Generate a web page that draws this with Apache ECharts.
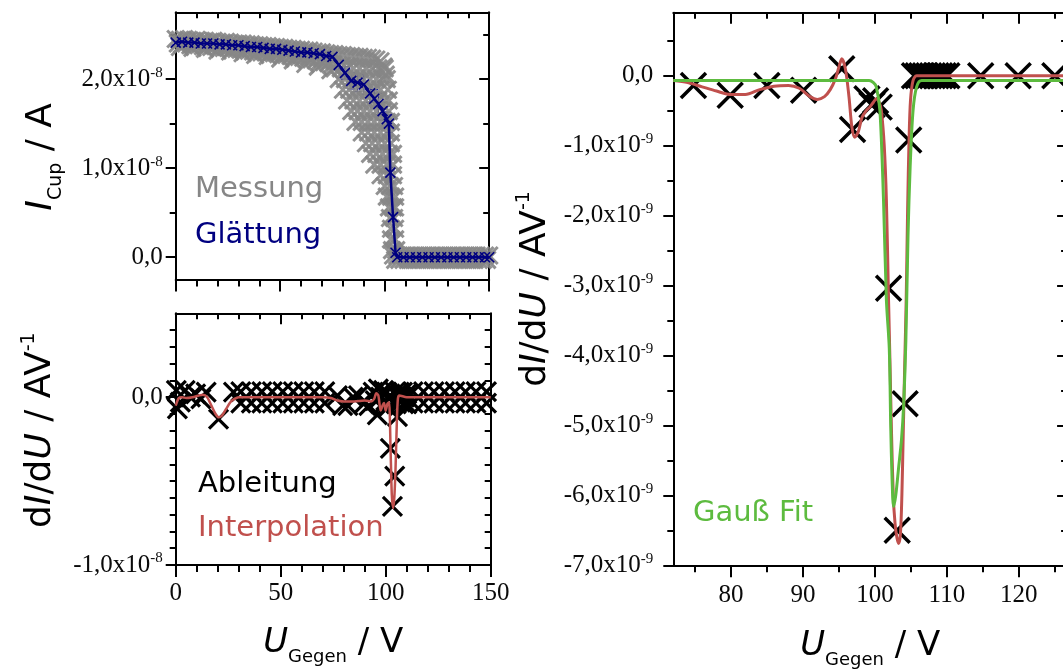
<!DOCTYPE html>
<html>
<head>
<meta charset="utf-8">
<title>Gegenfeld-Kurve</title>
<script src="https://cdn.jsdelivr.net/npm/echarts@6/dist/echarts.min.js"></script>
<style>
  html, body { margin: 0; padding: 0; background: #fff; }
  #chart { width: 1063px; height: 672px; }
</style>
</head>
<body>
<div id="chart"></div>
<script>
// ---- top left: Messung (grey) and Glättung (navy), current in 1e-8 A ----
const measU = [
  0, 2, 4, 6, 8, 10, 12, 14, 16, 18, 20, 22, 24, 26, 28, 30, 32, 34, 36, 38, 40, 42, 44, 46, 48, 50, 52, 54, 56, 58, 60, 62, 64, 66, 68, 70, 72, 74,
  76, 78, 80, 82, 84, 86, 88, 90, 92, 94, 96, 98, 99.5, 100.5,
  1, 3, 5, 7, 9, 11, 13, 15, 17, 19, 21, 23, 25, 27, 29, 31, 33, 35, 37, 39, 41, 43, 45, 47, 49, 51, 53, 55, 57, 59, 61, 63, 65, 67, 69, 71, 73, 75,
  2, 8, 14, 20, 26, 32, 38, 44, 50, 56, 62, 68, 74,
  76, 79, 82, 85, 88, 91, 94, 97, 100,
  78, 81, 84, 87, 90, 93, 96, 99, 101,
  80, 83, 86, 89, 92, 95, 98, 101.5,
  82, 85, 88, 91, 94, 97, 100, 102,
  84, 87, 90, 93, 96, 99, 102,
  86, 89, 92, 95, 98, 101, 103,
  89, 92, 95, 98, 101, 103,
  91, 94, 97, 100, 103,
  93, 96, 99, 102, 104,
  95, 98, 101, 104,
  98, 101, 104,
  100, 102.5, 104.5,
  101, 103, 105,
  102, 104, 105,
  102.5, 104.5, 103, 105, 103, 105, 103.5, 105.5,
  104, 106, 108, 110, 112, 114, 116, 118, 120, 122, 124, 126, 128, 130, 132, 134, 136, 138, 140, 142, 144, 146, 148, 150,
  105, 107, 109, 111, 113, 115, 117, 119, 121, 123, 125, 127, 129, 131, 133, 135, 137, 139, 141, 143, 145, 147, 149
];
const measI = [
  2.45, 2.44, 2.45, 2.44, 2.43, 2.44, 2.43, 2.43, 2.42, 2.43, 2.42, 2.41, 2.42, 2.41, 2.40, 2.40, 2.40, 2.39, 2.39, 2.38, 2.38, 2.37, 2.37, 2.36, 2.36, 2.35, 2.35, 2.34, 2.34, 2.33, 2.33, 2.32, 2.32, 2.31, 2.30, 2.30, 2.29, 2.28,
  2.28, 2.27, 2.27, 2.26, 2.26, 2.25, 2.25, 2.24, 2.24, 2.23, 2.22, 2.20, 2.14, 2.05,
  2.40, 2.39, 2.40, 2.38, 2.39, 2.38, 2.37, 2.38, 2.36, 2.37, 2.36, 2.35, 2.35, 2.34, 2.34, 2.33, 2.33, 2.32, 2.31, 2.31, 2.30, 2.30, 2.29, 2.29, 2.28, 2.27, 2.27, 2.26, 2.25, 2.25, 2.24, 2.23, 2.22, 2.21, 2.20, 2.19, 2.18, 2.17,
  2.36, 2.35, 2.34, 2.32, 2.31, 2.29, 2.27, 2.26, 2.23, 2.21, 2.17, 2.14, 2.10,
  2.12, 2.12, 2.12, 2.12, 2.12, 2.12, 2.12, 2.12, 2.12,
  2.0, 2.0, 2.0, 2.0, 2.0, 2.0, 2.0, 2.0, 2.0,
  1.88, 1.88, 1.88, 1.88, 1.88, 1.88, 1.88, 1.88,
  1.76, 1.76, 1.76, 1.76, 1.76, 1.76, 1.76, 1.76,
  1.64, 1.64, 1.64, 1.64, 1.64, 1.64, 1.64,
  1.52, 1.52, 1.52, 1.52, 1.52, 1.52, 1.52,
  1.40, 1.40, 1.40, 1.40, 1.40, 1.40,
  1.28, 1.28, 1.28, 1.28, 1.28,
  1.16, 1.16, 1.16, 1.16, 1.16,
  1.04, 1.04, 1.04, 1.04,
  0.92, 0.92, 0.92,
  0.80, 0.80, 0.80,
  0.68, 0.68, 0.68,
  0.56, 0.56, 0.56,
  0.44, 0.44, 0.32, 0.32, 0.20, 0.20, 0.08, 0.08,
  0.02, 0.02, 0.02, 0.02, 0.02, 0.02, 0.02, 0.02, 0.02, 0.02, 0.02, 0.02, 0.02, 0.02, 0.02, 0.02, 0.02, 0.02, 0.02, 0.02, 0.02, 0.02, 0.02, 0.02,
  -0.03, -0.03, -0.03, -0.03, -0.03, -0.03, -0.03, -0.03, -0.03, -0.03, -0.03, -0.03, -0.03, -0.03, -0.03, -0.03, -0.03, -0.03, -0.03, -0.03, -0.03, -0.03, -0.03
];
const smoothU = [
  0, 3, 6, 9, 12, 15, 18, 21, 24, 27, 30, 33, 36, 39, 42, 45, 48, 51, 54, 57, 60, 63, 66, 69, 72, 75,
  78, 81, 84, 87, 90, 93,
  95, 97, 99, 101, 102, 102.7, 104, 105.2, 106,
  109, 112, 115, 118, 121, 124, 127, 130, 133, 136, 139, 142, 145, 148, 150
];
const smoothI = [
  2.41, 2.42, 2.41, 2.41, 2.40, 2.40, 2.40, 2.39, 2.39, 2.38, 2.38, 2.37, 2.36, 2.36, 2.35, 2.34, 2.34, 2.33, 2.32, 2.31, 2.30, 2.30, 2.29, 2.28, 2.26, 2.25,
  2.16, 2.07, 1.98, 1.96, 1.94, 1.84,
  1.78, 1.72, 1.64, 1.55, 1.50, 0.95, 0.45, 0.05, 0,
  0, 0, 0, 0, 0, 0, 0, 0, 0, 0, 0, 0, 0, 0, 0
];
const smoothErr = [
  0.03, 0.03, 0.03, 0.03, 0.03, 0.03, 0.03, 0.03, 0.03, 0.03, 0.03, 0.03, 0.03, 0.03, 0.03, 0.03, 0.03, 0.03, 0.03, 0.03, 0.03, 0.03, 0.03, 0.03, 0.04, 0.04,
  0.06, 0.07, 0.09, 0.1, 0.11, 0.1,
  0.1, 0.12, 0.1, 0.08, 0.1, 0.06, 0.05, 0.04, 0.03,
  0.03, 0.03, 0.03, 0.03, 0.03, 0.03, 0.03, 0.03, 0.03, 0.03, 0.03, 0.03, 0.03, 0.03, 0.03
];

// ---- bottom left: Ableitung (black) and Interpolation (red), dI/dU in 1e-8 A/V ----
const derivU = [
  0.3, 0.8, 2.2, 4.5, 7, 9.5, 12, 14.5, 20.4, 27.5,
  31, 36, 41, 46, 51, 56, 61, 66, 71,
  31, 36, 41, 46, 51, 56, 61, 66, 71,
  77, 82, 87, 92, 79.5, 84.5, 89.5,
  94, 95, 96, 96.5, 97.5, 98.5, 99, 100, 100.5, 101, 101.5, 102.2, 103.2, 104.3, 104.5, 105, 105.6, 106, 106.5, 107, 107.5, 108, 108.5, 109, 110, 110,
  113, 118, 123, 128, 133, 138, 143, 148,
  113, 118, 123, 128, 133, 138, 143, 148
];
const derivV = [
  0.04, -0.07, -0.03, 0.04, 0.0, 0.02, -0.01, 0.03, -0.13, 0.03,
  0.033, 0.033, 0.033, 0.033, 0.033, 0.033, 0.033, 0.033, 0.033,
  -0.036, -0.036, -0.036, -0.036, -0.036, -0.036, -0.036, -0.036, -0.036,
  0.01, -0.05, 0.01, -0.05, -0.05, 0.0, -0.04,
  0.03, -0.02, -0.106, 0.05, 0.0, -0.05, 0.04, -0.02, 0.03, -0.06, 0.0, -0.305, -0.65, -0.47, 0.03, -0.04, -0.116, 0.0, 0.03, -0.03, 0.0, 0.03, -0.04, 0.0, 0.02, -0.04,
  0.033, 0.033, 0.033, 0.033, 0.033, 0.033, 0.033, 0.033,
  -0.036, -0.036, -0.036, -0.036, -0.036, -0.036, -0.036, -0.036
];
const interpU = [
  0, 1.5, 3, 5, 8, 11, 13, 15, 17, 19, 20.5, 22, 24, 26, 28, 30,
  40, 50, 60, 70, 74, 77, 80, 85, 90, 93,
  94.5, 95.5, 96.5, 97.6, 98.5, 99.2, 100, 100.8, 101.6,
  102.3, 102.9, 103.5, 104.1, 104.7, 105.3, 105.8, 106.5,
  110, 120, 130, 140, 150
];
const interpV = [
  -0.05, -0.005, 0.0, -0.005, 0.0, 0.01, 0.015, 0.0, -0.05, -0.1, -0.12, -0.11, -0.07, -0.03, -0.01, 0.0,
  0, 0, 0, 0, -0.005, -0.02, -0.025, -0.025, -0.02, -0.025,
  -0.01, 0.024, 0.01, -0.08, -0.05, -0.035, -0.08, -0.04, -0.03,
  -0.3, -0.58, -0.66, -0.6, -0.42, -0.15, -0.01, 0.01,
  0, 0, 0, 0, 0
];

// ---- right: zoom with Gauss fit, dI/dU in 1e-9 A/V ----
const zoomDerivU = [74.8, 79.9, 85, 90.1, 95.4, 96.9, 98.9, 99.6, 100.1, 100.6, 101.9, 103.1, 104.2, 104.7,
  105.5, 106, 106.5, 107, 107.5, 108, 108.5, 109, 109.5, 110, 114.7, 119.9, 125];
const zoomDerivV = [-0.14, -0.28, -0.14, -0.21, 0.1, -0.77, -0.33, -0.42, -0.36, -0.45, -3.04, -6.5, -4.69, -0.92,
  0, 0, 0, 0, 0, 0, 0, 0, 0, 0, 0, 0, 0];
const zoomInterpU = [
  72, 74, 76, 78, 80, 82, 84, 86, 88, 89.5, 91, 92, 93, 93.8, 94.5, 95, 95.4, 95.9, 96.4, 96.8,
  97.2, 97.7, 98.2, 98.8, 99.3, 99.8, 100.2, 100.6, 100.9, 101.3, 101.6, 101.9, 102.1, 102.3, 102.56, 102.8, 103.05, 103.3, 103.55, 103.75,
  103.95, 104.15, 104.35, 104.55, 104.75, 104.95, 105.3, 105.8, 107, 110, 115, 120, 126.7
];
const zoomInterpV = [
  -0.07, -0.1, -0.16, -0.22, -0.27, -0.27, -0.2, -0.15, -0.14, -0.18, -0.3, -0.34, -0.3, -0.2, -0.05, 0.12, 0.24, 0.1, -0.3, -0.73,
  -0.88, -0.8, -0.6, -0.5, -0.45, -0.38, -0.33, -0.38, -0.5, -1.0, -1.78, -3.21, -4.11, -5.06, -6.02, -6.4, -6.6, -6.69, -6.55, -6.0,
  -5.06, -4.11, -3.2, -1.9, -0.9, -0.35, -0.07, 0.0, 0, 0, 0, 0, 0
];
const gaussU = [72, 99.2, 99.8, 100.2, 100.7, 101.2, 101.6, 102.0, 102.2, 102.4, 102.6, 102.9, 103.3, 103.7, 104.0, 104.3, 104.6, 104.9, 105.3, 105.8, 106.5, 126.7];
const gaussV = [-0.07, -0.07, -0.1, -0.16, -0.5, -1.78, -3.21, -3.9, -5.0, -5.8, -6.16, -6.0, -5.6, -5.2, -4.7, -3.8, -2.3, -1.3, -0.5, -0.16, -0.07, -0.07];

// ---- ticks ----
const leftXMajor = [0, 50, 100, 150];
const leftXMinor = [10, 20, 30, 40, 60, 70, 80, 90, 110, 120, 130, 140];
const topYMajor = [0, 1, 2];
const topYMinor = [0.5, 1.5, 2.5];
const botYMajor = [-1, 0];
const botYMinor = [-0.9, -0.8, -0.7, -0.6, -0.5, -0.4, -0.3, -0.2, -0.1, 0.1, 0.2, 0.3, 0.4];
const rightXMajor = [80, 90, 100, 110, 120];
const rightXMinor = [75, 85, 95, 105, 115, 125];
const rightYMajor = [-7, -6, -5, -4, -3, -2, -1, 0];
const rightYMinor = [-6.5, -5.5, -4.5, -3.5, -2.5, -1.5, -0.5, 0.5];

const INK = '#000';
const GREY = '#868686';
const NAVY = '#000080';
const RED = '#c0504d';
const GREEN = '#5dbb3f';
const SANS = '"DejaVu Sans", sans-serif';
const SERIF = '"Liberation Serif", serif';
const CROSS = 'path://M0,0L10,10M10,0L0,10';

const zip = (a, b) => a.map((v, i) => [v, b[i]]);

const tickRich = {
  n: { fontSize: 25, fontFamily: SERIF, color: '#0a0a0a', lineHeight: 28 },
  e: { fontSize: 15, fontFamily: SERIF, color: '#0a0a0a', lineHeight: 15, verticalAlign: 'top' }
};
function expLabel(exp) {
  return function (v) {
    if (v === 0) return '{n|0,0}';
    return '{n|' + v.toFixed(1).replace('.', ',') + 'x10}{e|' + exp + '}';
  };
}

// x titles (34px) with subscript
const xTitleRich = {
  m: { fontSize: 34, fontFamily: SANS, color: INK, lineHeight: 40, verticalAlign: 'top' },
  i: { fontSize: 34, fontFamily: SANS, fontStyle: 'italic', color: INK, lineHeight: 40, verticalAlign: 'top' },
  s: { fontSize: 18, fontFamily: SANS, color: INK, lineHeight: 18, padding: [31, 0, 0, 0], verticalAlign: 'bottom' }
};
// y title with subscript (I_Cup / A)
const cupTitleRich = {
  m: { fontSize: 36, fontFamily: SANS, color: INK, lineHeight: 42, padding: [0, 22, 0, 0], verticalAlign: 'top' },
  i: { fontSize: 36, fontFamily: SANS, fontStyle: 'italic', color: INK, lineHeight: 42, verticalAlign: 'top' },
  s: { fontSize: 19, fontFamily: SANS, color: INK, lineHeight: 19, padding: [32, 0, 0, 0], verticalAlign: 'bottom' }
};
// y titles with superscript (dI/dU / AV^-1)
function supTitleRich(lead) {
  return {
    q: { fontSize: 36, fontFamily: SANS, color: INK, lineHeight: 42, padding: [6, 0, 0, lead], verticalAlign: 'top' },
    m: { fontSize: 36, fontFamily: SANS, color: INK, lineHeight: 42, padding: [6, 0, 0, 0], verticalAlign: 'top' },
    i: { fontSize: 36, fontFamily: SANS, fontStyle: 'italic', color: INK, lineHeight: 42, padding: [6, 0, 0, 0], verticalAlign: 'top' },
    p: { fontSize: 19, fontFamily: SANS, color: INK, lineHeight: 19, padding: [3, 0, 0, 0], verticalAlign: 'top' }
  };
}
const uTitle = '{i|U}{s|Gegen}{m| / V}';
const cupTitle = '{i|I}{s|Cup}{m| / A}';
const dTitle = '{q|d}{i|I}{m|/d}{i|U}{m| / AV}{p|-1}';

function tick(len, inside, vals) {
  return { show: true, inside: inside, length: len, customValues: vals, lineStyle: { color: INK, width: 2 } };
}
const axLine = { show: true, onZero: false, lineStyle: { color: INK, width: 2 } };
const noLine = { show: false, onZero: false };
const off = { show: false };

// four x axes per grid: bottom major/minor, top major/minor
function xAxes(g, min, max, major, minor, o) {
  const base = { type: 'value', gridIndex: g, min: min, max: max, splitLine: off };
  return [
    Object.assign({}, base, {
      position: 'bottom', axisLine: axLine, axisTick: tick(12, false, major),
      axisLabel: o.labels ? { customValues: major, margin: o.margin, color: '#0a0a0a', fontSize: 25, fontFamily: SERIF } : off,
      name: o.name || '', nameLocation: 'middle', nameGap: o.nameGap || 0,
      nameTextStyle: { rich: xTitleRich }
    }),
    Object.assign({}, base, { position: 'bottom', axisLine: noLine, axisTick: tick(7, false, minor), axisLabel: off }),
    Object.assign({}, base, { position: 'top', axisLine: axLine, axisTick: tick(11, true, major), axisLabel: off }),
    Object.assign({}, base, { position: 'top', axisLine: noLine, axisTick: tick(6, true, minor), axisLabel: off })
  ];
}
// four y axes per grid: left major/minor, right major/minor
function yAxes(g, min, max, major, minor, o) {
  const base = { type: 'value', gridIndex: g, min: min, max: max, splitLine: off };
  return [
    Object.assign({}, base, {
      position: 'left', axisLine: axLine, axisTick: tick(10, false, major),
      axisLabel: { customValues: major, margin: o.margin, formatter: expLabel(o.exp), rich: tickRich, fontSize: 25, fontFamily: SERIF, color: '#0a0a0a' },
      name: o.name, nameLocation: 'middle', nameRotate: 90, nameGap: o.nameGap,
      nameTextStyle: { rich: o.rich }
    }),
    Object.assign({}, base, { position: 'left', axisLine: noLine, axisTick: tick(6, false, minor), axisLabel: off }),
    Object.assign({}, base, { position: 'right', axisLine: axLine, axisTick: tick(10, true, major), axisLabel: off }),
    Object.assign({}, base, { position: 'right', axisLine: noLine, axisTick: tick(6, true, minor), axisLabel: off })
  ];
}

function errorBars(params, api) {
  const x = api.value(0), y = api.value(1), e = api.value(2);
  const a = api.coord([x, y + e]);
  const b = api.coord([x, y - e]);
  const st = { stroke: NAVY, lineWidth: 1.3 };
  return {
    type: 'group',
    children: [
      { type: 'line', shape: { x1: a[0], y1: a[1], x2: b[0], y2: b[1] }, style: st },
      { type: 'line', shape: { x1: a[0] - 4, y1: a[1], x2: a[0] + 4, y2: a[1] }, style: st },
      { type: 'line', shape: { x1: b[0] - 4, y1: b[1], x2: b[0] + 4, y2: b[1] }, style: st }
    ]
  };
}

const chart = echarts.init(document.getElementById('chart'), null, { renderer: 'canvas' });

const option = {
  backgroundColor: '#fff',
  animation: false,
  grid: [
    { left: 175.7, top: 12.3, width: 313.5, height: 267.2, outerBoundsMode: 'none' },
    { left: 175.7, top: 313.3, width: 315, height: 251.7, outerBoundsMode: 'none' },
    { left: 673.3, top: 12.7, width: 393.8, height: 552.6, outerBoundsMode: 'none' }
  ],
  xAxis: [].concat(
    xAxes(0, 0, 150, leftXMajor, leftXMinor, { labels: false }),
    xAxes(1, 0, 150, leftXMajor, leftXMinor, { labels: true, margin: 16, name: uTitle, nameGap: 61 }),
    xAxes(2, 72, 126.7, rightXMajor, rightXMinor, { labels: true, margin: 18, name: uTitle, nameGap: 64 })
  ),
  yAxis: [].concat(
    yAxes(0, -0.25, 2.75, topYMajor, topYMinor, { margin: 13, exp: '-8', name: cupTitle, nameGap: 110, rich: cupTitleRich }),
    yAxes(1, -1, 0.5, botYMajor, botYMinor, { margin: 13, exp: '-8', name: dTitle, nameGap: 117, rich: supTitleRich(18) }),
    yAxes(2, -7, 0.9, rightYMajor, rightYMinor, { margin: 20, exp: '-9', name: dTitle, nameGap: 120, rich: supTitleRich(0) })
  ),
  series: [
    {
      name: 'Messung', type: 'scatter', xAxisIndex: 0, yAxisIndex: 0,
      data: zip(measU, measI), symbol: CROSS, symbolSize: 17,
      itemStyle: { color: 'transparent', borderColor: GREY, borderWidth: 3, opacity: 0.9 }
    },
    {
      name: 'Fehler', type: 'custom', xAxisIndex: 0, yAxisIndex: 0,
      data: smoothU.map((u, i) => [u, smoothI[i], smoothErr[i]]),
      renderItem: errorBars
    },
    {
      name: 'Glättung', type: 'line', xAxisIndex: 0, yAxisIndex: 0,
      data: zip(smoothU, smoothI), symbol: CROSS, symbolSize: 10, showSymbol: true,
      lineStyle: { color: NAVY, width: 2.5 },
      itemStyle: { color: 'transparent', borderColor: NAVY, borderWidth: 1.6 }
    },
    {
      name: 'Ableitung', type: 'scatter', xAxisIndex: 4, yAxisIndex: 4,
      data: zip(derivU, derivV), symbol: CROSS, symbolSize: 19,
      itemStyle: { color: 'transparent', borderColor: INK, borderWidth: 3.2, opacity: 1 }
    },
    {
      name: 'Interpolation', type: 'line', xAxisIndex: 4, yAxisIndex: 4,
      data: zip(interpU, interpV), smooth: 0.25, showSymbol: false,
      lineStyle: { color: RED, width: 2.5 }
    },
    {
      name: 'Interpolation Zoom', type: 'line', xAxisIndex: 8, yAxisIndex: 8,
      data: zip(zoomInterpU, zoomInterpV), smooth: 0.3, showSymbol: false,
      lineStyle: { color: RED, width: 3 }
    },
    {
      name: 'Gauß Fit', type: 'line', xAxisIndex: 8, yAxisIndex: 8,
      data: zip(gaussU, gaussV), smooth: 0.3, showSymbol: false,
      lineStyle: { color: GREEN, width: 3 }
    },
    {
      name: 'Ableitung Zoom', type: 'scatter', xAxisIndex: 8, yAxisIndex: 8,
      data: zip(zoomDerivU, zoomDerivV), symbol: CROSS, symbolSize: 25,
      itemStyle: { color: 'transparent', borderColor: INK, borderWidth: 3.5, opacity: 1 }
    }
  ],
  graphic: [
    { type: 'text', x: 195, y: 189, style: { text: 'Messung', fill: GREY, font: '29px ' + SANS, verticalAlign: 'middle' } },
    { type: 'text', x: 195, y: 235, style: { text: 'Glättung', fill: NAVY, font: '29px ' + SANS, verticalAlign: 'middle' } },
    { type: 'text', x: 198, y: 484, style: { text: 'Ableitung', fill: INK, font: '29px ' + SANS, verticalAlign: 'middle' } },
    { type: 'text', x: 198, y: 528, style: { text: 'Interpolation', fill: RED, font: '29px ' + SANS, verticalAlign: 'middle' } },
    { type: 'text', x: 693, y: 513, style: { text: 'Gauß Fit', fill: GREEN, font: '29px ' + SANS, verticalAlign: 'middle' } }
  ]
};

chart.setOption(option);
</script>
</body>
</html>
